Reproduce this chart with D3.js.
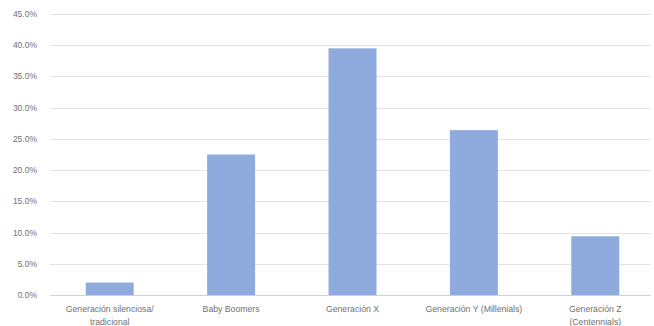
<!DOCTYPE html>
<html>
<head>
<meta charset="utf-8">
<script src="https://cdn.jsdelivr.net/npm/d3@7"></script>
<style>
  html, body { margin: 0; padding: 0; background: #ffffff; }
  svg { display: block; }
</style>
</head>
<body>
<svg id="chart" width="654" height="326"></svg>
<script>
const categories = [
  ["Generación silenciosa/", "tradicional"],
  ["Baby Boomers"],
  ["Generación X"],
  ["Generación Y (Millenials)"],
  ["Generación Z", "(Centennials)"]
];
const values = [2.0, 22.5, 39.5, 26.4, 9.4];
const yTicks = [0, 5, 10, 15, 20, 25, 30, 35, 40, 45];

const svg = d3.select("#chart");
const plotLeft = 50, plotRight = 651, plotTop = 14, plotBottom = 295;

const x = d3.scaleBand()
  .domain(d3.range(categories.length))
  .range([49, 656])
  .paddingInner(0.605)
  .paddingOuter(0.3025);

const y = d3.scaleLinear().domain([0, 45]).range([plotBottom, plotTop]);

// gridlines
svg.append("g").selectAll("line")
  .data(yTicks)
  .join("line")
  .attr("x1", plotLeft).attr("x2", plotRight)
  .attr("y1", d => Math.round(y(d)) + 0.5).attr("y2", d => Math.round(y(d)) + 0.5)
  .attr("stroke", d => d === 0 ? "#d0d0d0" : "#e3e3e3")
  .attr("stroke-width", 1);

// y tick labels
svg.append("g").selectAll("text")
  .data(yTicks)
  .join("text")
  .attr("x", 37)
  .attr("y", d => y(d))
  .attr("dy", "0.35em")
  .attr("text-anchor", "end")
  .attr("font-family", "Liberation Sans, Arial, sans-serif")
  .attr("font-size", 8.5)
  .attr("fill", "#707070")
  .text(d => d.toFixed(1) + "%");

// bars
svg.append("g").selectAll("rect")
  .data(values)
  .join("rect")
  .attr("x", (d, i) => x(i))
  .attr("width", x.bandwidth())
  .attr("y", d => y(d))
  .attr("height", d => y(0) - y(d))
  .attr("fill", "#8faadc");

// category labels
const lab = svg.append("g").selectAll("text")
  .data(categories)
  .join("text")
  .attr("x", (d, i) => x(i) + x.bandwidth() / 2)
  .attr("y", 311.5)
  .attr("text-anchor", "middle")
  .attr("font-family", "Liberation Sans, Arial, sans-serif")
  .attr("font-size", 8.7)
  .attr("fill", "#707070");
lab.each(function(d) {
  const t = d3.select(this);
  d.forEach((line, k) => {
    t.append("tspan")
      .attr("x", t.attr("x"))
      .attr("dy", k === 0 ? 0 : 13)
      .text(line);
  });
});
</script>
</body>
</html>
